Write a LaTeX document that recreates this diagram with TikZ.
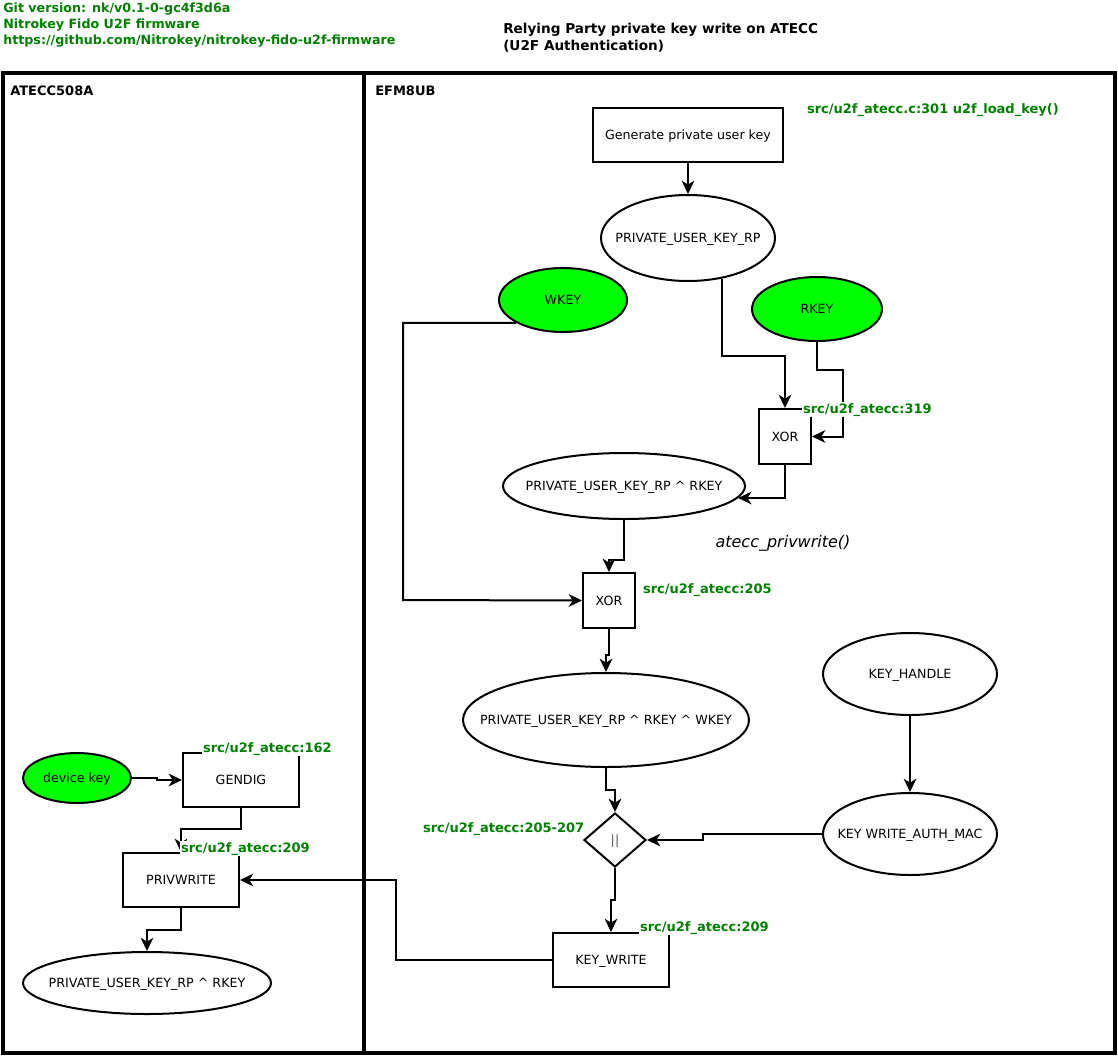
\documentclass[tikz,border=0pt]{standalone}
\usepackage{fontspec}
\setmainfont{DejaVu Sans}
\usetikzlibrary{arrows.meta,shapes.geometric}
\definecolor{keygreen}{HTML}{00FF00}
\definecolor{srcgreen}{HTML}{008000}
% zero-width centred text, so the ellipse keeps its given size
\newcommand{\ctrtext}[1]{\makebox[0pt]{#1}}

\begin{document}
\begin{tikzpicture}[x=0.75pt,y=-0.75pt,
  every node/.style={font=\fontsize{9.5}{11}\selectfont, text=black},
  shaped/.style={draw, line width=1.5pt, inner sep=0pt, text height=0.73em, text depth=0pt},
  box/.style={shaped, rectangle},
  oval/.style={shaped, ellipse},
  keyoval/.style={oval, fill=keygreen},
  gate/.style={shaped, diamond, aspect=1.15},
  frame/.style={draw, line width=2.6pt},
  conn/.style={line width=1.5pt, -{Stealth[length=10pt,width=9.5pt,inset=3pt]}},
  heading/.style={anchor=base west, inner sep=0pt, font=\bfseries\fontsize{9.75}{12}\selectfont},
  src/.style={anchor=base west, text=srcgreen, fill=white, inner sep=0.6pt,
              font=\bfseries\fontsize{9.75}{12}\selectfont},
  ]
\useasboundingbox (0,0) rectangle (1118,1057);

% header texts
\node[heading, text=srcgreen, font=\bfseries\fontsize{9.5}{12}\selectfont] (gitver) at (3,12.5) {Git version: nk/v0.1-0-gc4f3d6a};
\node[heading, text=srcgreen, font=\bfseries\fontsize{9.5}{12}\selectfont] (fwname) at (3,28.5) {Nitrokey Fido U2F firmware};
\node[heading, text=srcgreen, font=\bfseries\fontsize{9.5}{12}\selectfont] (fwurl) at (3,44.5) {https://github.com/Nitrokey/nitrokey-fido-u2f-firmware};
\node[heading, font=\bfseries\fontsize{10.2}{12}\selectfont] (title1) at (503,33.5) {Relying Party private key write on ATECC};
\node[heading, font=\bfseries\fontsize{10.2}{12}\selectfont] (title2) at (503,50) {(U2F Authentication)};

% the two chips
\draw[frame] (3,73) rectangle (364,1053);
\draw[frame] (364,73) rectangle (1115,1053);
\node[heading] (atecc) at (10,95) {ATECC508A};
\node[heading] (efm) at (375,95) {EFM8UB};

% EFM8UB side
\node[box, minimum width=142.5pt, minimum height=40.5pt] (gen) at (688,135) {Generate private user key};
\node[oval, minimum width=130.5pt, minimum height=64.5pt] (puk) at (688,238) {\ctrtext{PRIVATE\_USER\_KEY\_RP}};
\node[keyoval, minimum width=96pt, minimum height=48pt] (wkey) at (563,300) {\ctrtext{WKEY}};
\node[keyoval, minimum width=97.5pt, minimum height=48pt] (rkey) at (817,309) {\ctrtext{RKEY}};
\node[box, minimum width=39pt, minimum height=41.25pt] (xora) at (785,436.5) {XOR};
\node[oval, minimum width=181.5pt, minimum height=49.5pt] (pr) at (624,486) {\ctrtext{PRIVATE\_USER\_KEY\_RP \textasciicircum{} RKEY}};
\node[box, minimum width=39pt, minimum height=41.25pt] (xorb) at (609,600.5) {XOR};
\node[oval, minimum width=214.5pt, minimum height=70.5pt] (pukrw) at (606,720) {\ctrtext{PRIVATE\_USER\_KEY\_RP \textasciicircum{} RKEY \textasciicircum{} WKEY}};
\node[oval, minimum width=130.5pt, minimum height=61.5pt] (kh) at (910,674) {\ctrtext{KEY\_HANDLE}};
\node[oval, minimum width=130.5pt, minimum height=61.5pt] (kwam) at (910,834) {\ctrtext{KEY WRITE\_AUTH\_MAC}};
\node[gate, minimum width=46.5pt, minimum height=40.5pt, text=black!65] (dia) at (615,840) {\ctrtext{||}};
\node[box, minimum width=87pt, minimum height=40.5pt] (kw) at (611,960) {KEY\_WRITE};
\node[anchor=base, inner sep=0pt, font=\itshape\fontsize{12}{14}\selectfont] (fn) at (783,547) {atecc\_privwrite()};

% ATECC508A side
\node[keyoval, minimum width=81pt, minimum height=37.5pt] (dk) at (77,778) {\ctrtext{device key}};
\node[box, minimum width=87pt, minimum height=40.5pt] (gd) at (241,780) {GENDIG};
\node[box, minimum width=87pt, minimum height=40.5pt] (pw) at (181,880) {PRIVWRITE};
\node[oval, minimum width=186pt, minimum height=46.5pt] (lpr) at (147,983) {\ctrtext{PRIVATE\_USER\_KEY\_RP \textasciicircum{} RKEY}};

% connectors
\draw[conn] (gen.south) -- (puk.north);
\draw[conn] (puk.-50) |- (785,356) -- (xora.north);
\draw[conn] (rkey.south) |- (843,370) |- (xora.east);
\draw[conn] (xora.south) |- (pr.-6);
\draw[conn] (wkey.206) -| (403,600) -- (xorb.west);
\draw[conn] (pr.south) |- (609,560) -- (xorb.north);
\draw[conn] (xorb.south) |- (606,655) -- (pukrw.north);
\draw[conn] (pukrw.south) |- (615,790) -- (dia.north);
\draw[conn] (kh.south) -- (kwam.north);
\draw[conn] (kwam.west) -| (703,840) -- (dia.east);
\draw[conn] (dia.south) |- (611,900) -- (kw.north);
\draw[conn] (kw.west) -| (396,880) -- (pw.east);
\draw[conn] (dk.east) -| (157,780) -- (gd.west);
\draw[conn] (gd.south) |- (181,829) -- (pw.north);
\draw[conn] (pw.south) |- (147,930) -- (lpr.north);

% source references
\node[src] (s301) at (806,113) {src/u2f\_atecc.c:301 u2f\_load\_key()};
\node[src] (s319) at (802,413) {src/u2f\_atecc:319};
\node[src] (s205) at (642,593) {src/u2f\_atecc:205};
\node[src] (s207) at (422,832) {src/u2f\_atecc:205-207};
\node[src] (s209b) at (639,931) {src/u2f\_atecc:209};
\node[src] (s162) at (202,752) {src/u2f\_atecc:162};
\node[src] (s209a) at (180,852) {src/u2f\_atecc:209};
\end{tikzpicture}
\end{document}
